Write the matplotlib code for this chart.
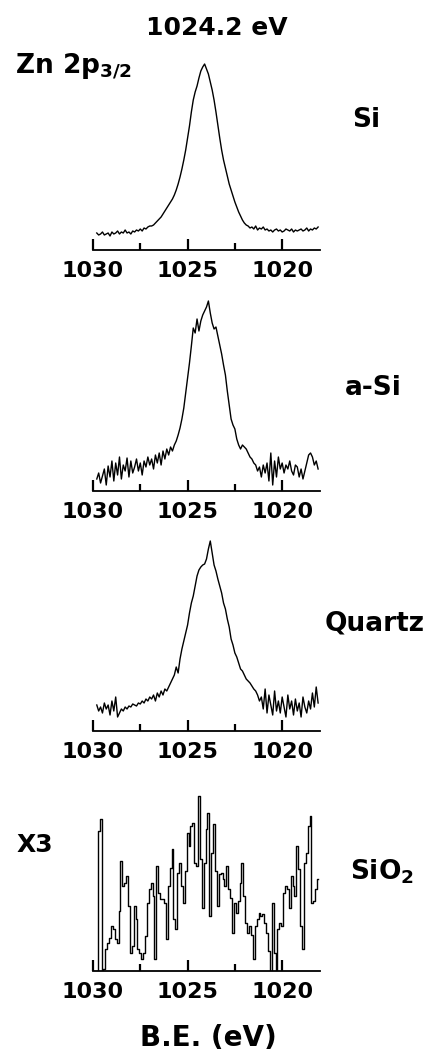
import matplotlib.pyplot as plt
import numpy as np
from matplotlib.ticker import FixedLocator

# Zn 2p3/2 XPS spectra, binding energy step 0.1 eV (1029.8 -> 1018.1)
be = np.round(np.arange(1029.8, 1018.05, -0.1), 1)

# intensities (arb. units)
si = [17, 15, 16, 18, 15, 16, 17, 14, 18, 16, 17, 19, 16, 18, 17, 20, 17, 18, 16, 19,
      18, 20, 19, 21, 19, 22, 21, 23, 24,
      24, 25, 27, 29, 31, 33, 36, 39, 42, 45, 48, 51, 55, 60, 66, 73, 81, 90, 100, 112,
      124, 138, 150, 158, 164, 172, 179, 183, 186, 181, 176, 168, 160, 150, 138, 125, 112, 100, 90, 82,
      74, 66, 60, 54, 48, 43, 38, 34, 30, 27, 25, 24, 22, 23, 21, 24, 20, 22, 21, 23,
      20, 21, 19, 20, 18, 20, 21, 19, 20, 18, 19, 21, 20, 19, 21, 18, 20, 19, 20, 21,
      19, 20, 22, 19, 21, 20, 22, 21, 23]

a_si = [12, 18, 8, 15, 22, 6, 25, 14, 30, 10, 28, 16, 34, 12, 26, 20, 33, 14, 30, 18,
        24, 32, 20, 28, 16, 30, 24, 34, 26,
        32, 22, 36, 28, 38, 26, 40, 32, 42, 36, 44, 40, 46,
        50, 56, 63, 72, 83, 98, 113, 128, 145, 163, 158, 172, 160, 170, 176, 180, 184, 190,
        178, 168, 162, 164, 155, 146, 137, 126, 116, 100, 86, 72, 66, 62, 52, 46, 42, 46, 44, 42,
        38, 34, 32, 28, 26,
        20, 24, 14, 26, 18, 28, 10, 38, 6, 30, 14, 34, 22, 28, 18, 26, 22, 30, 20, 16,
        26, 24, 14, 22, 12, 20, 28, 36, 38, 34, 26, 30, 22]

quartz = [26, 20, 24, 18, 28, 22, 26, 16, 30, 20, 34, 14, 18, 22, 20, 24, 22, 25, 24, 27,
          26, 25, 28, 27, 30, 28, 32, 30, 34,
          32, 36, 30, 38, 34, 40, 36, 42, 40, 44, 48, 52, 56,
          64, 58, 72, 82, 90, 98, 106, 118, 128, 135, 145, 155, 161, 164, 166, 167, 172, 182,
          190, 178, 166, 160, 152, 145, 138, 128, 122, 112, 104, 92, 86, 78, 74, 68, 62, 60, 56, 52,
          50, 48, 45, 42, 40,
          36, 30, 34, 22, 42, 18, 36, 26, 16, 40, 20, 30, 18, 34, 24, 14, 36, 22, 30, 16,
          32, 20, 28, 14, 34, 24, 18, 30, 22, 38, 24, 44, 28]

# SiO2 already multiplied by 3
sio2 = [0, 140, 152, 0, 2, 22, 28, 33, 45, 42, 32, 28, 60, 110, 85, 88, 95, 65, 18, 25,
        65, 52, 22, 18, 12, 18, 35, 68, 82, 88, 75, 12, 105, 78, 72, 72, 68, 32, 85, 103,
        122, 52, 42, 98, 108, 85, 68, 100, 138, 125, 145, 148, 108, 105, 175, 112, 63, 108, 142, 158,
        55, 118, 147, 100, 65, 97, 98, 92, 85, 105, 82, 73, 38, 68, 58, 70, 88, 108, 75, 48,
        38, 45, 36, 12, 45, 52, 58, 55, 57, 48, 38, 20, 0, 68, 18, 0, 42, 48, 45, 78,
        85, 82, 63, 95, 85, 75, 125, 102, 45, 22, 108, 118, 145, 155, 68, 70, 82, 92]

spectra = [si, a_si, quartz, sio2]
samples = ['Si', 'a-Si', 'Quartz', r'SiO$_\mathbf{2}$']
xticks = [1030, 1025, 1020]

W, H = 433, 1055
plt.rcParams['font.family'] = 'DejaVu Sans'
plt.rcParams['font.weight'] = 'bold'

fig = plt.figure(figsize=(W / 100, H / 100), dpi=100)

axis_y = [250, 491, 731, 971]     # pixel row of each x axis
label_y = [120, 388, 623, 872]
label_x = [352, 345, 325, 350]
styles = ['default', 'default', 'default', 'steps-mid']

for spec, name, ay, ly, lx, ds in zip(spectra, samples, axis_y, label_y, label_x, styles):
    ax = fig.add_axes([93 / W, 1 - ay / H, 227 / W, 200 / H])
    ax.plot(be, spec, color='black', lw=1.0, drawstyle=ds)
    ax.set_xlim(1030, 1018)
    ax.set_ylim(0, 200)
    for s in ['top', 'left', 'right']:
        ax.spines[s].set_visible(False)
    ax.spines['bottom'].set_linewidth(1.3)
    ax.set_yticks([])
    ax.set_xticks(xticks)
    ax.set_xticklabels([str(t) for t in xticks])
    ax.xaxis.set_minor_locator(FixedLocator([1027.5, 1022.5]))
    ax.tick_params(axis='x', which='major', direction='in', length=8, width=1.6,
                   labelsize=16, pad=8)
    ax.tick_params(axis='x', which='minor', direction='in', length=5, width=1.6)
    fig.text(lx / W, 1 - ly / H, name, fontsize=19, fontweight='bold',
             ha='left', va='center')

fig.text(217 / W, 1 - 28 / H, '1024.2 eV', fontsize=18, fontweight='bold',
         ha='center', va='center')
fig.text(15 / W, 1 - 73 / H, r'Zn 2p$_{\mathbf{3/2}}$', fontsize=19, fontweight='bold',
         ha='left', va='baseline')
fig.text(17 / W, 1 - 845 / H, 'X3', fontsize=18, fontweight='bold',
         ha='left', va='center')
fig.text(208 / W, 1 - 1038 / H, 'B.E. (eV)', fontsize=20, fontweight='bold',
         ha='center', va='center')

fig.savefig('out.png', dpi=100)
